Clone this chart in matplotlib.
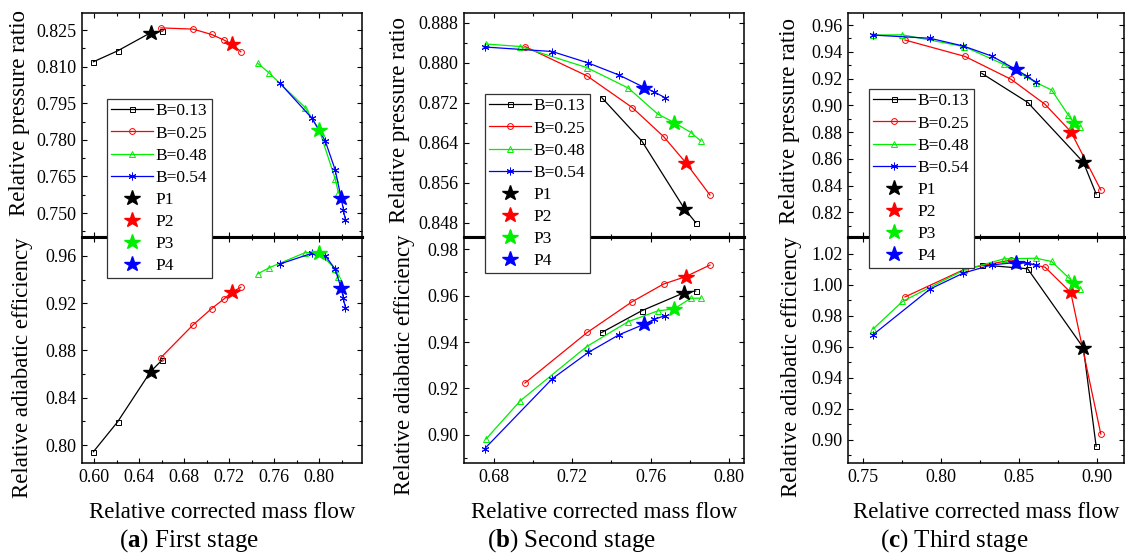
import matplotlib
matplotlib.use('Agg')
import matplotlib.pyplot as plt
from matplotlib.ticker import MultipleLocator, FormatStrFormatter
from matplotlib.lines import Line2D

plt.rcParams['font.family'] = ['Liberation Serif', 'DejaVu Serif']
plt.rcParams['mathtext.fontset'] = 'custom'
plt.rcParams['mathtext.rm'] = 'Liberation Serif'
plt.rcParams['mathtext.bf'] = 'Liberation Serif:bold'

# ---------------- data ----------------
labels_B = ['B=0.13', 'B=0.25', 'B=0.48', 'B=0.54']
labels_P = ['P1', 'P2', 'P3', 'P4']

# Stage 1
s1_B013_x = [0.5994, 0.6210, 0.6502, 0.6605]
s1_B013_pr = [0.8120, 0.8165, 0.8239, 0.8246]
s1_B013_eff = [0.7943, 0.8197, 0.8621, 0.8720]
s1_B025_x = [0.6593, 0.6879, 0.7044, 0.7150, 0.7227, 0.7304]
s1_B025_pr = [0.8259, 0.8254, 0.8232, 0.8210, 0.8193, 0.8161]
s1_B025_eff = [0.8739, 0.9016, 0.9154, 0.9233, 0.9295, 0.9335]
s1_B048_x = [0.7454, 0.7558, 0.7876, 0.8000, 0.8142, 0.8171]
s1_B048_pr = [0.8114, 0.8073, 0.7932, 0.7841, 0.7640, 0.7582]
s1_B048_eff = [0.9448, 0.9501, 0.9628, 0.9628, 0.9490, 0.9420]
s1_B054_x = [0.7652, 0.7935, 0.8053, 0.8142, 0.8195, 0.8215, 0.8233]
s1_B054_pr = [0.8032, 0.7889, 0.7796, 0.7677, 0.7561, 0.7514, 0.7470]
s1_B054_eff = [0.9532, 0.9622, 0.9603, 0.9487, 0.9327, 0.9242, 0.9157]
s1_P_x = [0.6502, 0.7227, 0.8000, 0.8195]
s1_P_pr = [0.8239, 0.8193, 0.7841, 0.7561]
s1_P_eff = [0.8621, 0.9295, 0.9628, 0.9327]

# Stage 2
s2_B013_x = [0.7350, 0.7555, 0.7772, 0.7830]
s2_B013_pr = [0.8730, 0.8643, 0.8508, 0.8480]
s2_B013_eff = [0.9441, 0.9535, 0.9613, 0.9620]
s2_B025_x = [0.6958, 0.7276, 0.7506, 0.7666, 0.7779, 0.7903]
s2_B025_pr = [0.8832, 0.8773, 0.8710, 0.8652, 0.8600, 0.8535]
s2_B025_eff = [0.9223, 0.9441, 0.9574, 0.9650, 0.9682, 0.9732]
s2_B048_x = [0.6759, 0.6934, 0.7273, 0.7486, 0.7636, 0.7720, 0.7806, 0.7856]
s2_B048_pr = [0.8837, 0.8832, 0.8790, 0.8749, 0.8697, 0.8680, 0.8660, 0.8643]
s2_B048_eff = [0.8981, 0.9146, 0.9380, 0.9488, 0.9534, 0.9543, 0.9589, 0.9589]
s2_B054_x = [0.6753, 0.7097, 0.7282, 0.7438, 0.7568, 0.7619, 0.7672]
s2_B054_pr = [0.8831, 0.8822, 0.8799, 0.8775, 0.8750, 0.8741, 0.8730]
s2_B054_eff = [0.8940, 0.9241, 0.9355, 0.9431, 0.9477, 0.9498, 0.9513]
s2_P_x = [0.7772, 0.7779, 0.7720, 0.7568]
s2_P_pr = [0.8508, 0.8600, 0.8680, 0.8750]
s2_P_eff = [0.9613, 0.9682, 0.9543, 0.9477]

# Stage 3
s3_B013_x = [0.8261, 0.8556, 0.8914, 0.8996]
s3_B013_pr = [0.9239, 0.9022, 0.8574, 0.8337]
s3_B013_eff = [1.0129, 1.0104, 0.9594, 0.8958]
s3_B025_x = [0.7768, 0.8154, 0.8450, 0.8668, 0.8833, 0.9026]
s3_B025_pr = [0.9488, 0.9365, 0.9194, 0.9007, 0.8803, 0.8367]
s3_B025_eff = [0.9922, 1.0102, 1.0161, 1.0114, 0.9951, 0.9037]
s3_B048_x = [0.7564, 0.7752, 0.8150, 0.8404, 0.8610, 0.8710, 0.8817, 0.8852, 0.8893]
s3_B048_pr = [0.9525, 0.9527, 0.9438, 0.9305, 0.9170, 0.9114, 0.8927, 0.8870, 0.8840]
s3_B048_eff = [0.9716, 0.9893, 1.0097, 1.0168, 1.0172, 1.0151, 1.0048, 1.0012, 0.9975]
s3_B054_x = [0.7564, 0.7929, 0.8143, 0.8325, 0.8479, 0.8550, 0.8610]
s3_B054_pr = [0.9525, 0.9501, 0.9443, 0.9368, 0.9269, 0.9219, 0.9172]
s3_B054_eff = [0.9679, 0.9973, 1.0076, 1.0129, 1.0144, 1.0140, 1.0129]
s3_P_x = [0.8914, 0.8833, 0.8852, 0.8479]
s3_P_pr = [0.8574, 0.8803, 0.8870, 0.9269]
s3_P_eff = [0.9594, 0.9951, 1.0012, 1.0144]

captions = ['a', 'b', 'c']
caption_text = ['First stage', 'Second stage', 'Third stage']

# ---------------- layout / style ----------------
W, H = 1126, 554
fig = plt.figure(figsize=(W / 100, H / 100), dpi=100)
def fx(px): return px / W
def fy(py): return 1 - py / H

colors = ['black', 'red', '#00ee00', 'blue']
markers = ['s', 'o', '^', (6, 2, 0)]
msizes = [3.6, 4.2, 5.0, 5.5]
star_ms = 11.5

stages = [
    dict(x=[s1_B013_x, s1_B025_x, s1_B048_x, s1_B054_x],
         pr=[s1_B013_pr, s1_B025_pr, s1_B048_pr, s1_B054_pr],
         eff=[s1_B013_eff, s1_B025_eff, s1_B048_eff, s1_B054_eff],
         px=s1_P_x, ppr=s1_P_pr, peff=s1_P_eff,
         L=82, R=362, xlim=(0.5893, 0.838), ylt=(0.7402, 0.832), ylb=(0.7848, 0.976),
         xmaj=0.04, xfmt='%.2f', ytmaj=0.015, ytfmt='%.3f', ybmaj=0.04, ybfmt='%.2f',
         ylab_x=(19.5, 22.5), ylab_y=(113, 368), leg=(107, 99), cap_x=189),
    dict(x=[s2_B013_x, s2_B025_x, s2_B048_x, s2_B054_x],
         pr=[s2_B013_pr, s2_B025_pr, s2_B048_pr, s2_B054_pr],
         eff=[s2_B013_eff, s2_B025_eff, s2_B048_eff, s2_B054_eff],
         px=s2_P_x, ppr=s2_P_pr, peff=s2_P_eff,
         L=464, R=744, xlim=(0.6647, 0.8077), ylt=(0.8451, 0.8899), ylb=(0.8878, 0.9853),
         xmaj=0.04, xfmt='%.2f', ytmaj=0.008, ytfmt='%.3f', ybmaj=0.02, ybfmt='%.2f',
         ylab_x=(400, 405), ylab_y=(120, 365), leg=(485, 94), cap_x=572),
    dict(x=[s3_B013_x, s3_B025_x, s3_B048_x, s3_B054_x],
         pr=[s3_B013_pr, s3_B025_pr, s3_B048_pr, s3_B054_pr],
         eff=[s3_B013_eff, s3_B025_eff, s3_B048_eff, s3_B054_eff],
         px=s3_P_x, ppr=s3_P_pr, peff=s3_P_eff,
         L=848, R=1124, xlim=(0.7402, 0.9175), ylt=(0.8015, 0.969), ylb=(0.885, 1.0309),
         xmaj=0.05, xfmt='%.2f', ytmaj=0.02, ytfmt='%.2f', ybmaj=0.02, ybfmt='%.2f',
         ylab_x=(789, 791), ylab_y=(121, 367), leg=(869, 89), cap_x=954),
]

TOP, MID, BOT = 13, 237, 463
tick_fs = 13
lab_fs = 16.5

def style_axis(ax, xmaj, ymaj, xfmt, yfmt, show_x):
    ax.xaxis.set_major_locator(MultipleLocator(xmaj))
    ax.xaxis.set_minor_locator(MultipleLocator(xmaj / 2))
    ax.yaxis.set_major_locator(MultipleLocator(ymaj))
    ax.yaxis.set_minor_locator(MultipleLocator(ymaj / 2))
    ax.xaxis.set_major_formatter(FormatStrFormatter(xfmt))
    ax.yaxis.set_major_formatter(FormatStrFormatter(yfmt))
    ax.tick_params(which='both', direction='in', top=True, right=True,
                   labelsize=tick_fs, width=0.8, colors='black')
    ax.tick_params(which='major', length=3.8)
    ax.tick_params(which='minor', length=2.2)
    ax.tick_params(axis='y', pad=4)
    ax.tick_params(axis='x', pad=4.5)
    if not show_x:
        ax.tick_params(labelbottom=False)
    for s in ax.spines.values():
        s.set_linewidth(1.1)

for i, st in enumerate(stages):
    L, R = st['L'], st['R']
    axt = fig.add_axes([fx(L), fy(MID), (R - L) / W, (MID - TOP) / H])
    axb = fig.add_axes([fx(L), fy(BOT), (R - L) / W, (BOT - MID) / H])
    for k in range(4):
        kw = dict(color=colors[k], lw=0.9, marker=markers[k], ms=msizes[k],
                  mfc='none', mec=colors[k], mew=0.7)
        axt.plot(st['x'][k], st['pr'][k], **kw)
        axb.plot(st['x'][k], st['eff'][k], **kw)
    for k in range(4):
        axt.plot(st['px'][k], st['ppr'][k], ls='none', marker='*', ms=star_ms,
                 color=colors[k], mec=colors[k], zorder=5)
        axb.plot(st['px'][k], st['peff'][k], ls='none', marker='*', ms=star_ms,
                 color=colors[k], mec=colors[k], zorder=5)
    for ax, yl in ((axt, st['ylt']), (axb, st['ylb'])):
        ax.set_xlim(*st['xlim'])
        ax.set_ylim(*yl)
    style_axis(axt, st['xmaj'], st['ytmaj'], st['xfmt'], st['ytfmt'], False)
    style_axis(axb, st['xmaj'], st['ybmaj'], st['xfmt'], st['ybfmt'], True)
    axt.spines['bottom'].set_linewidth(2.2)
    axb.spines['top'].set_linewidth(2.2)

    fig.text(fx(st['ylab_x'][0]), fy(st['ylab_y'][0]), 'Relative pressure ratio',
             rotation=90, ha='center', va='center', fontsize=lab_fs)
    fig.text(fx(st['ylab_x'][1]), fy(st['ylab_y'][1]), 'Relative adiabatic efficiency',
             rotation=90, ha='center', va='center', fontsize=lab_fs)
    fig.text(fx((L + R) / 2), fy(512), 'Relative corrected mass flow',
             ha='center', va='center', fontsize=lab_fs)
    fig.text(fx(st['cap_x']), fy(541), '(' + r'$\mathbf{' + captions[i] + '}$' + ') ' + caption_text[i],
             ha='center', va='center', fontsize=18)

    handles = []
    for k in range(4):
        handles.append(Line2D([], [], color=colors[k], lw=0.9, marker=markers[k],
                              ms=msizes[k], mfc='none', mec=colors[k], mew=0.7))
    for k in range(4):
        handles.append(Line2D([], [], ls='none', marker='*', ms=star_ms, color=colors[k]))
    leg = fig.legend(handles, labels_B + labels_P, loc='upper left',
                     bbox_to_anchor=(fx(st['leg'][0]), fy(st['leg'][1])),
                     frameon=True, fancybox=False, edgecolor='#333333', facecolor='white',
                     framealpha=1, fontsize=12.5, borderpad=0.25, labelspacing=0.34,
                     handlelength=2.4, handletextpad=0.15, borderaxespad=0)
    leg.get_frame().set_linewidth(0.9)

fig.savefig('out.png', dpi=100)
